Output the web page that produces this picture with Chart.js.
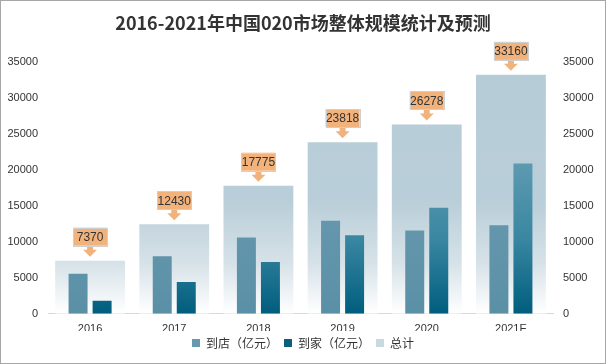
<!DOCTYPE html>
<html>
<head>
<meta charset="utf-8">
<script src="https://cdn.jsdelivr.net/npm/chart.js@4/dist/chart.umd.min.js"></script>
<style>
  html, body { margin: 0; padding: 0; background: #fff; }
  #wrap { width: 606px; height: 364px; box-sizing: border-box; border: 1px solid #a6a6a6; }
</style>
</head>
<body>
<div id="wrap"><canvas id="c" width="604" height="362"></canvas></div>
<script>
const years = ["2016", "2017", "2018", "2019", "2020", "2021E"];
const storeValues = [5570, 8000, 10600, 12900, 11560, 12300];   // 到店
const homeValues = [1800, 4430, 7175, 10918, 14718, 20860];     // 到家
const totalValues = [7370, 12430, 17775, 23818, 26278, 33160];  // 总计
const legendColors = ["#6898ad", "#0b5f7d", "#c7d9e1"];

const tickFont = { family: "'Liberation Sans', 'Noto Sans CJK SC'", size: 11 };

// chart-area wide vertical gradient
function areaGradient(stops) {
    return function (context) {
        const area = context.chart.chartArea;
        if (!area) return stops[0][1];
        const g = context.chart.ctx.createLinearGradient(0, area.top, 0, area.bottom);
        stops.forEach(s => g.addColorStop(s[0], s[1]));
        return g;
    };
}

// orange callout with down arrow above each total bar
const calloutPlugin = {
    id: "callouts",
    afterDatasetsDraw(chart) {
        const ctx = chart.ctx;
        const meta = chart.getDatasetMeta(2);
        ctx.save();
        ctx.font = "12px 'Liberation Sans', sans-serif";
        ctx.textAlign = "center";
        ctx.textBaseline = "middle";
        meta.data.forEach((bar, i) => {
            const x = bar.x;
            const tip = bar.y - 4;
            const boxW = 34, boxH = 18;
            const boxBottom = tip - 11;
            ctx.fillStyle = "#f2b27c";
            // arrow
            ctx.beginPath();
            ctx.moveTo(x - 3, boxBottom);
            ctx.lineTo(x + 3, boxBottom);
            ctx.lineTo(x + 3, tip - 7);
            ctx.lineTo(x + 7, tip - 7);
            ctx.lineTo(x, tip);
            ctx.lineTo(x - 7, tip - 7);
            ctx.lineTo(x - 3, tip - 7);
            ctx.closePath();
            ctx.fill();
            // box
            ctx.fillRect(x - boxW / 2, boxBottom - boxH, boxW, boxH);
            ctx.strokeStyle = "#cfcfcf";
            ctx.lineWidth = 1;
            ctx.strokeRect(Math.round(x - boxW / 2) + 0.5, Math.round(boxBottom - boxH) + 0.5, boxW, boxH);
            ctx.fillStyle = "#333";
            ctx.fillText(String(totalValues[i]), x, boxBottom - boxH / 2 + 1);
        });
        ctx.restore();
    }
};

new Chart(document.getElementById("c").getContext("2d"), {
    type: "bar",
    data: {
        labels: years,
        datasets: [
            {
                label: "到店（亿元）",
                data: storeValues,
                order: 1,
                backgroundColor: areaGradient([[0, "#76a2b6"], [1, "#5a90a6"]]),
                categoryPercentage: 0.571,
                barPercentage: 0.79
            },
            {
                label: "到家（亿元）",
                data: homeValues,
                order: 2,
                backgroundColor: areaGradient([[0, "#86b4c6"], [0.4, "#5e9ab0"], [0.7, "#3a87a2"], [1, "#005d7e"]]),
                categoryPercentage: 0.571,
                barPercentage: 0.79
            },
            {
                label: "总计",
                data: totalValues,
                order: 3,
                grouped: false,
                backgroundColor: areaGradient([[0, "#b5ccd6"], [0.55, "#b9ced8"], [0.8, "#d6e2e8"], [1, "#ffffff"]]),
                categoryPercentage: 1,
                barPercentage: 0.83
            }
        ]
    },
    options: {
        responsive: false,
        animation: false,
        layout: { padding: { top: 0, bottom: 4 } },
        plugins: {
            title: {
                display: true,
                text: "2016-2021年中国020市场整体规模统计及预测",
                color: "#333",
                font: { family: "'Noto Sans CJK SC', sans-serif", size: 18, weight: "bold" },
                padding: { top: 11, bottom: 28 }
            },
            legend: {
                position: "bottom",
                labels: {
                    boxWidth: 8,
                    boxHeight: 8,
                    color: "#333",
                    padding: 6,
                    font: { family: "'Noto Sans CJK SC', sans-serif", size: 12 },
                    generateLabels(chart) {
                        const items = Chart.defaults.plugins.legend.labels.generateLabels(chart);
                        items.forEach(it => {
                            it.fillStyle = legendColors[it.datasetIndex];
                            it.strokeStyle = legendColors[it.datasetIndex];
                            it.lineWidth = 0;
                        });
                        return items;
                    }
                }
            },
            tooltip: { enabled: false }
        },
        scales: {
            x: {
                grid: { display: false, drawTicks: false },
                border: { display: true, color: "#d9d9d9" },
                ticks: { color: "#333", font: tickFont, padding: 9 },
                afterFit(scale) { scale.height -= 14; }
            },
            y: {
                position: "left",
                min: 0,
                max: 35000,
                grid: { display: false, drawTicks: false },
                border: { display: false },
                ticks: { stepSize: 5000, color: "#333", font: tickFont, padding: 10, callback: v => String(v) },
                afterFit(scale) { scale.width = 47; }
            },
            y2: {
                position: "right",
                min: 0,
                max: 35000,
                grid: { display: false, drawTicks: false },
                border: { display: false },
                ticks: { stepSize: 5000, color: "#333", font: tickFont, padding: 10, callback: v => String(v) },
                afterFit(scale) { scale.width = 52; }
            }
        }
    },
    plugins: [calloutPlugin]
});
</script>
</body>
</html>
